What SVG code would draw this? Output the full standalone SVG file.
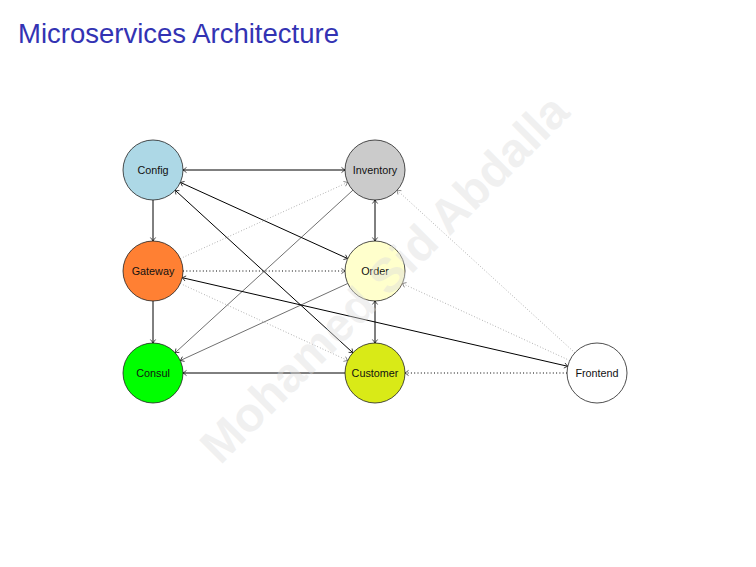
<svg xmlns="http://www.w3.org/2000/svg" width="756" height="567" viewBox="0 0 756 567">
<defs>
<style>
.node circle{stroke:#222;stroke-width:0.8}
.node text{font-family:"Liberation Sans",Arial,sans-serif;font-size:10.8px;fill:#111;text-anchor:middle}
.e{fill:none;stroke:#000;stroke-width:1}
.thin{stroke-width:0.65;stroke:#222}
.dot{stroke-dasharray:1 2.3}
.gdot{stroke:#888;stroke-width:0.8;stroke-dasharray:0.8 2.1}
.ab{marker-end:url(#ah)}
.ab2{marker-start:url(#ah);marker-end:url(#ah)}
.ag{marker-end:url(#ahg)}
</style>
<marker id="ah" viewBox="-5 -4 6 8" markerWidth="6" markerHeight="8" refX="0" refY="0" orient="auto-start-reverse" markerUnits="userSpaceOnUse">
<path d="M-3.5,-2.6 Q-1,-0.6 0,0 Q-1,0.6 -3.5,2.6" fill="none" stroke="#000" stroke-width="0.7"/>
</marker>
<marker id="ahg" viewBox="-5 -4 6 8" markerWidth="6" markerHeight="8" refX="0" refY="0" orient="auto-start-reverse" markerUnits="userSpaceOnUse">
<path d="M-3.5,-2.6 Q-1,-0.6 0,0 Q-1,0.6 -3.5,2.6" fill="none" stroke="#666" stroke-width="0.7"/>
</marker>
</defs>
<rect width="756" height="567" fill="#fff"/>
<text x="18" y="43" font-family="'Liberation Sans',Arial,sans-serif" font-size="27.5" fill="#3333b3">Microservices Architecture</text>
<g id="connectors">
<line class="e ab2" x1="183" y1="170" x2="345" y2="170"/>
<line class="e ab" x1="153" y1="200" x2="153" y2="241"/>
<line class="e ab" x1="153" y1="301" x2="153" y2="343"/>
<line class="e ab2" x1="180.3" y1="182.4" x2="347.7" y2="258.6"/>
<line class="e ab2" x1="175.1" y1="190.2" x2="352.9" y2="352.8"/>
<line class="e thin ab" x1="352.9" y1="190.2" x2="175.1" y2="352.8"/>
<line class="e thin ab" x1="347.7" y1="283.5" x2="180.3" y2="360.5"/>
<line class="e gdot ag" x1="180.3" y1="258.6" x2="347.7" y2="182.4"/>
<line class="e dot ab" x1="183" y1="271" x2="345" y2="271"/>
<line class="e gdot ag" x1="180.3" y1="283.5" x2="347.7" y2="360.5"/>
<line class="e ab2" x1="182.2" y1="277.7" x2="567.8" y2="366.3"/>
<line class="e ab2" x1="375" y1="200" x2="375" y2="241"/>
<line class="e ab2" x1="375" y1="301" x2="375" y2="343"/>
<line class="e ab" x1="345" y1="373" x2="183" y2="373"/>
<line class="e dot ab" x1="567" y1="373" x2="405" y2="373"/>
<line class="e gdot ag" x1="574.9" y1="352.8" x2="397.1" y2="190.2"/>
<line class="e gdot ag" x1="569.7" y1="360.5" x2="402.3" y2="283.5"/>
</g>
<g id="config" class="node"><circle cx="153" cy="170" r="30" fill="#add8e6"/><text x="153" y="173.5">Config</text></g>
<g id="inventory" class="node"><circle cx="375" cy="170" r="30" fill="#cbcbcb"/><text x="375" y="173.5">Inventory</text></g>
<g id="gateway" class="node"><circle cx="153" cy="271" r="30" fill="#ff8033"/><text x="153" y="274.5">Gateway</text></g>
<g id="order" class="node"><circle cx="375" cy="271" r="30" fill="#ffffcc"/><text x="375" y="274.5">Order</text></g>
<g id="consul" class="node"><circle cx="153" cy="373" r="30" fill="#00ff00"/><text x="153" y="376.5">Consul</text></g>
<g id="customer" class="node"><circle cx="375" cy="373" r="30" fill="#d9ea17"/><text x="375" y="376.5">Customer</text></g>
<g id="frontend" class="node"><circle cx="597" cy="373" r="30" fill="#fff"/><text x="597" y="376.5">Frontend</text></g>
<text transform="translate(396,290) rotate(-45)" text-anchor="middle" font-family="'Liberation Sans',Arial,sans-serif" font-weight="bold" font-size="48" fill="#dcdcdc" fill-opacity="0.42">Mohamed Sid Abdalla</text>
</svg>
